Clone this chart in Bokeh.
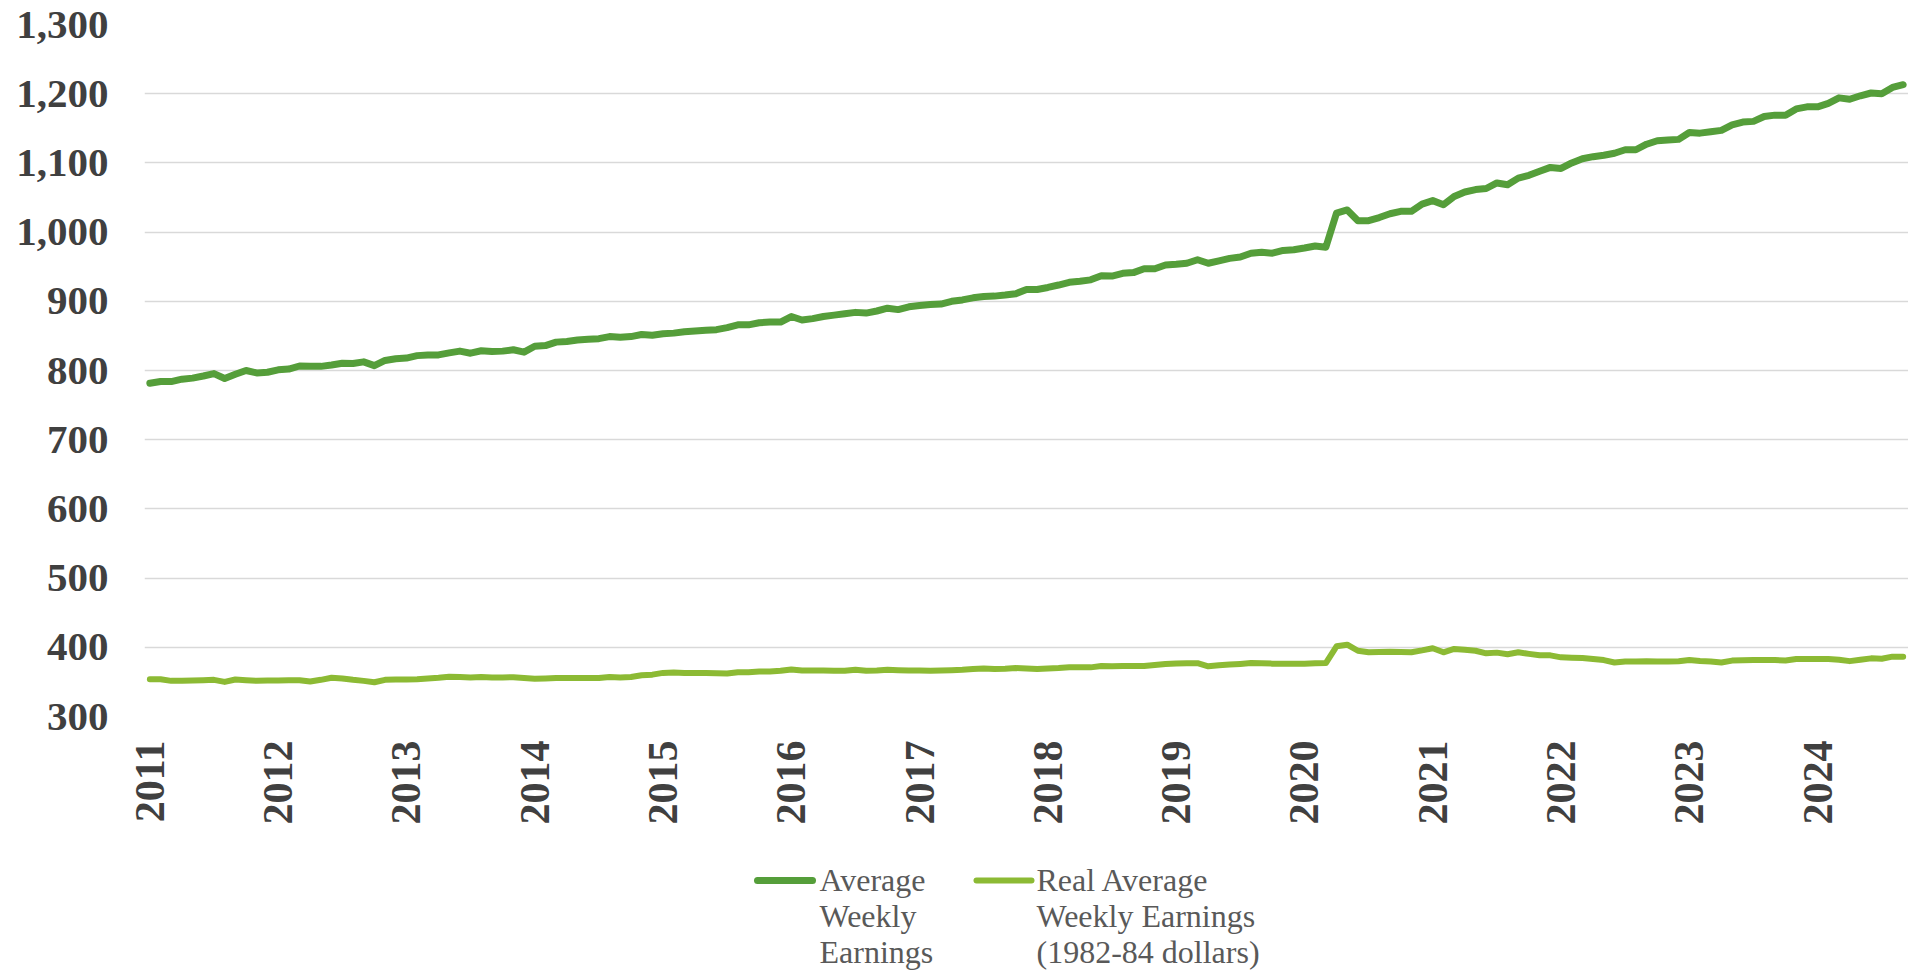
import math
from bokeh.plotting import figure
from bokeh.models import Range1d, FixedTicker, NumeralTickFormatter, ColumnDataSource
from bokeh.layouts import column
from bokeh.core.properties import value
from bokeh.embed import file_html
from bokeh.resources import INLINE

# ---------------- data (monthly, Jan 2011 .. Sep 2024) ----------------
years = [2011, 2012, 2013, 2014, 2015, 2016, 2017, 2018, 2019, 2020, 2021, 2022, 2023, 2024]
year_labels = [str(y) for y in years]

avg_weekly_earnings = [
    781.6, 784.0, 784.0, 787.5, 789.0, 792.0, 795.5, 788.5, 794.5, 800.0, 796.5, 797.5,
    801.0, 802.0, 806.5, 806.0, 806.0, 808.0, 810.5, 810.0, 812.5, 807.0, 814.5, 817.0,
    818.0, 821.5, 822.5, 822.5, 825.5, 828.0, 825.0, 828.5, 827.5, 828.0, 830.0, 826.5,
    835.0, 836.0, 841.0, 842.0, 844.0, 845.0, 846.0, 849.0, 848.0, 849.0, 852.0, 851.0,
    853.0, 854.0, 856.0, 857.0, 858.0, 859.0, 862.0, 866.0, 866.0, 869.0, 870.0, 870.0,
    878.0, 873.0, 875.0, 878.0, 880.0, 882.0, 884.0, 883.0, 886.0, 890.0, 888.0, 892.0,
    894.0, 895.5, 896.0, 900.0, 902.0, 905.0, 907.0, 907.5, 909.0, 911.0, 917.0, 917.0,
    920.0, 923.5, 927.5, 929.0, 931.0, 937.0, 936.5, 940.5, 941.5, 947.0, 947.0, 952.5,
    953.5, 955.0, 960.0, 955.0, 958.5, 962.0, 964.0, 969.5, 971.0, 969.5, 973.5, 974.5,
    977.0, 980.0, 978.0, 1027.5, 1032.0, 1016.5, 1016.5, 1021.0, 1026.5, 1030.0, 1030.0, 1040.5,
    1045.5, 1039.5, 1051.5, 1058.0, 1061.5, 1063.0, 1071.0, 1068.5, 1078.0, 1082.0, 1088.0, 1093.5,
    1092.0, 1100.0, 1106.0, 1109.0, 1111.0, 1114.0, 1119.0, 1119.0, 1127.0, 1132.0, 1133.0, 1134.0,
    1144.0, 1143.0, 1145.0, 1147.0, 1155.0, 1159.0, 1160.0, 1167.0, 1169.0, 1169.0, 1178.0, 1181.0,
    1181.0, 1186.0, 1194.0, 1192.0, 1197.0, 1201.0, 1200.0, 1209.0, 1213.0,
]

real_avg_weekly_earnings = [
    353.8, 353.8, 351.5, 351.5, 352.0, 352.5, 353.0, 350.0, 353.5, 352.5, 351.5, 352.0,
    352.0, 352.5, 352.5, 350.5, 353.0, 356.0, 355.0, 353.0, 351.5, 349.5, 353.0, 353.5,
    353.5, 354.0, 355.0, 356.0, 357.5, 357.0, 356.5, 357.0, 356.5, 356.5, 356.7, 355.5,
    354.5, 355.0, 355.5, 355.5, 355.5, 355.5, 355.5, 357.0, 356.5, 357.0, 359.5, 360.5,
    363.0, 363.5, 363.0, 363.0, 363.0, 362.5, 362.0, 364.0, 364.0, 365.0, 365.0, 366.0,
    368.0, 366.5, 366.5, 366.5, 366.0, 366.0, 367.5, 366.0, 366.5, 367.5, 367.0, 366.5,
    366.5, 366.0, 366.5, 367.0, 367.5, 368.5, 369.5, 368.7, 369.0, 370.0, 369.5, 368.7,
    369.5, 370.0, 371.0, 371.0, 371.0, 373.0, 372.5, 373.0, 373.0, 373.0, 374.5, 376.0,
    376.5, 377.0, 377.0, 372.5, 374.0, 375.0, 376.0, 377.3, 377.0, 376.4, 376.4, 376.4,
    376.4, 377.0, 377.3, 401.4, 403.8, 395.0, 392.8, 393.3, 393.7, 393.3, 392.8, 395.5,
    398.6, 392.8, 397.6, 396.5, 395.0, 391.3, 392.3, 390.0, 392.8, 390.5, 388.4, 388.4,
    385.5, 385.0, 384.6, 383.0, 381.5, 378.0, 379.5, 379.5, 379.8, 379.5, 379.5, 380.0,
    381.5, 380.3, 379.5, 378.0, 380.8, 381.3, 381.5, 381.5, 381.5, 381.0, 383.0, 383.0,
    383.0, 383.0, 382.0, 380.0, 382.0, 384.0, 383.5, 386.5, 386.5,
]

y_ticks = [300, 400, 500, 600, 700, 800, 900, 1000, 1100, 1200, 1300]

series_names = ["Average Weekly Earnings", "Real Average Weekly Earnings (1982-84 dollars)"]
legend_lines = [["Average", "Weekly", "Earnings"],
                ["Real Average", "Weekly Earnings", "(1982-84 dollars)"]]

# ---------------- styling ----------------
DARK = "#559E3A"
LIGHT = "#8CBA34"
TICK_COLOR = "#404040"
LEGEND_COLOR = "#595959"
FONT = "Liberation Serif"

W = 1908
LEFT = 144
MAIN_H = 850
LEG_H = 122

n = len(avg_weekly_earnings)
month_index = list(range(n))
source = ColumnDataSource(dict(x=month_index, avg=avg_weekly_earnings, real=real_avg_weekly_earnings))

p = figure(width=W, height=MAIN_H, output_backend="svg", toolbar_location=None,
           x_range=Range1d(-0.5, n - 0.5), y_range=Range1d(300, 1300),
           min_border_left=LEFT, min_border_right=0, min_border_top=24, min_border_bottom=134)
p.outline_line_color = None
p.background_fill_color = "white"
p.border_fill_color = "white"

p.line("x", "real", source=source, line_color=LIGHT, line_width=6,
       line_join="round", line_cap="round")
p.line("x", "avg", source=source, line_color=DARK, line_width=7,
       line_join="round", line_cap="round")

yt = FixedTicker(ticks=y_ticks)
p.yaxis.ticker = yt
p.ygrid.ticker = yt
p.yaxis.formatter = NumeralTickFormatter(format="0,0")
p.xgrid.grid_line_color = None
p.ygrid.grid_line_color = "#D9D9D9"
p.ygrid.grid_line_width = 1.5

year_ticks = [i * 12 for i in range(len(years))]
p.xaxis.ticker = FixedTicker(ticks=year_ticks)
p.xaxis.major_label_overrides = {t: lab for t, lab in zip(year_ticks, year_labels)}
p.xaxis.major_label_orientation = math.pi / 2

for ax in (p.xaxis[0], p.yaxis[0]):
    ax.axis_line_color = None
    ax.major_tick_line_color = None
    ax.minor_tick_line_color = None
    ax.major_tick_in = 0
    ax.major_tick_out = 0
    ax.major_label_text_font = FONT
    ax.major_label_text_font_style = "bold"
    ax.major_label_text_color = TICK_COLOR
p.yaxis.major_label_text_font_size = "41px"
p.xaxis.major_label_text_font_size = "42px"
p.yaxis.major_label_standoff = 36
p.xaxis.major_label_standoff = 24

# ---------------- legend strip (page coordinates, frame aligned with main) ----------------
leg = figure(width=W, height=LEG_H, output_backend="svg", toolbar_location=None,
             x_range=Range1d(LEFT, W), y_range=Range1d(MAIN_H + LEG_H, MAIN_H),
             min_border_left=LEFT, min_border_right=0, min_border_top=0, min_border_bottom=0,
             x_axis_type=None, y_axis_type=None)
leg.outline_line_color = None
leg.grid.visible = False
leg.background_fill_color = "white"
leg.border_fill_color = "white"

sym_x0 = [757, 976]
sym_len = 55
text_x = [819, 1036]
sym_y = 880
base_y = [879, 915, 951]   # text is laid out ~12px below the requested baseline
colors = [DARK, LIGHT]
widths = [7, 6]
for i in range(2):
    leg.line([sym_x0[i], sym_x0[i] + sym_len], [sym_y, sym_y], line_color=colors[i],
             line_width=widths[i], line_cap="round")
    leg.text(x=[text_x[i]] * 3, y=base_y, text=legend_lines[i],
             text_font=value(FONT), text_font_size="32px", text_color=LEGEND_COLOR,
             text_baseline="alphabetic", text_align="left")

layout = column(p, leg, spacing=0)
open("out.html", "w").write(file_html(layout, INLINE, title="Average Weekly Earnings"))
